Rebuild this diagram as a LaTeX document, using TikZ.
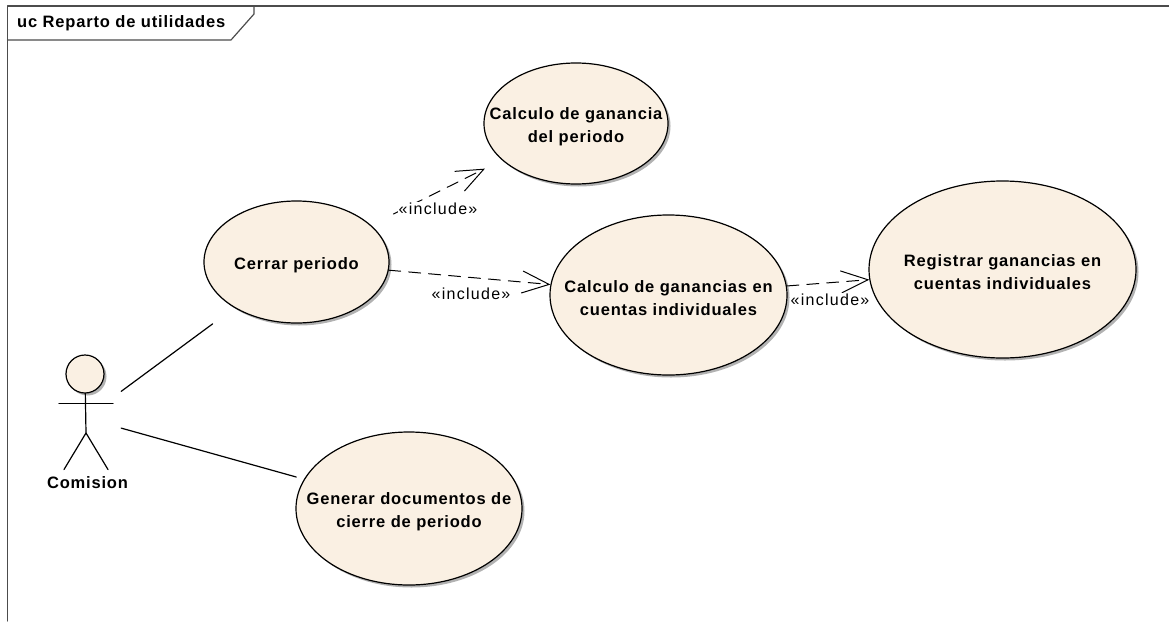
\documentclass[tikz,border=0pt]{standalone}
\usepackage{fontspec}
\setmainfont[LetterSpace=5]{Liberation Sans}
\usetikzlibrary{arrows.meta,shadows,shapes.geometric}
\definecolor{ucfill}{RGB}{250,240,227}
\colorlet{ucshadow}{black!30}
\tikzset{>={Straight Barb[length=27pt,width=22pt]}}

\begin{document}
\begin{tikzpicture}[
	x=1pt, y=-1pt,
	line cap=round, line join=round,
	frameline/.style={black!70, line width=1.2pt},
	usecase/.style={ellipse, draw=black, line width=1.2pt, fill=ucfill, inner sep=0pt,
		drop shadow={shadow xshift=2.5pt, shadow yshift=-2.5pt, fill=ucshadow, opacity=1}},
	casetext/.style={align=center, inner sep=0pt, yshift=-3pt,
		font=\bfseries\fontsize{16.5}{23}\selectfont},
	actorline/.style={black, line width=1.2pt},
	assoc/.style={black, line width=1.2pt},
	includes/.style={black, line width=1pt, dash pattern=on 12pt off 8pt, ->},
	stereo/.style={fill=white, inner sep=1pt, font=\fontsize{16}{17}\selectfont\addfontfeature{LetterSpace=8}}
]
	\useasboundingbox (0,0) rectangle (1169,621);

	% frame and its tab
	\draw[frameline] (7.5,621) -- (7.5,6) -- (1169,6);
	\draw[frameline] (7.5,40) -- (231,40) -- (254,14) -- (254,6);
	\node[font=\bfseries\fontsize{16.5}{17}\selectfont, anchor=west, inner sep=0pt] (title) at (17,23.5) {uc Reparto de utilidades};

	% use cases
	\node[usecase, minimum width=184pt, minimum height=121pt, label={[casetext]center:{Calculo de ganancia\\del periodo}}] (ganancia) at (576,123.5) {};
	\node[usecase, minimum width=185pt, minimum height=122pt, label={[casetext]center:{Cerrar periodo}}] (cerrar) at (296.5,262) {};
	\node[usecase, minimum width=237pt, minimum height=160pt, label={[casetext]center:{Calculo de ganancias en\\cuentas individuales}}] (cuentas) at (668.5,295) {};
	\node[usecase, minimum width=267pt, minimum height=177pt, label={[casetext]center:{Registrar ganancias en\\cuentas individuales}}] (registrar) at (1002.5,269.5) {};
	\node[usecase, minimum width=226pt, minimum height=153pt, label={[casetext]center:{Generar documentos de\\cierre de periodo}}] (generar) at (409,508.5) {};

	% actor
	\node[minimum width=72pt, minimum height=100pt, inner sep=0pt] (comision) at (85,418) {};
	\node[circle, draw=black, line width=1.2pt, fill=ucfill, minimum size=38pt, inner sep=0pt,
		drop shadow={shadow xshift=2.5pt, shadow yshift=-2.5pt, fill=ucshadow, opacity=1}] (head) at (85,374) {};
	\coordinate (hip) at (86,433);
	\draw[actorline] (head) -- (hip) -- (64,469.5);
	\draw[actorline] (hip) -- (108,469.5);
	\draw[actorline] (59,403.4) -- (113,403.4);
	\node[font=\bfseries\fontsize{16.5}{17}\selectfont, inner sep=0pt] (name) at (87.5,482.5) {Comision};

	% connectors
	\draw[assoc, shorten >=27pt] (comision) -- (cerrar);
	\draw[assoc, shorten >=8pt] (comision) -- (generar);
	\draw[includes, shorten <=25pt, shorten >=19pt] (cerrar) -- (ganancia);
	\draw[includes] (cerrar) -- (cuentas);
	\draw[includes] (cuentas) -- (registrar);

	% stereotypes
	\node[stereo] (incA) at (438,209) {«include»};
	\node[stereo] (incB) at (471,294) {«include»};
	\node[stereo] (incC) at (830,300) {«include»};
\end{tikzpicture}
\end{document}
